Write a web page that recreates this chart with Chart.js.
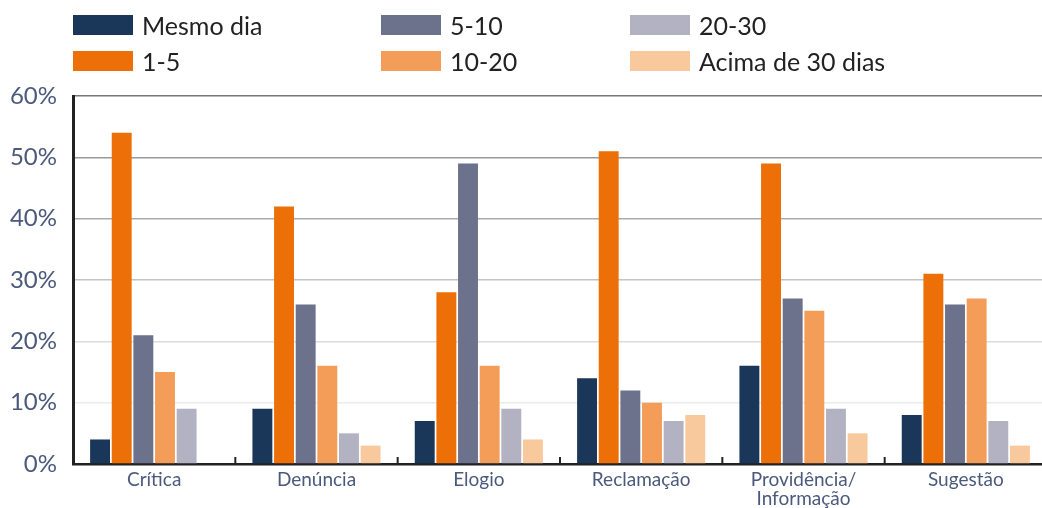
<!DOCTYPE html>
<html>
<head>
<meta charset="utf-8">
<script src="https://cdn.jsdelivr.net/npm/chart.js@4/dist/chart.umd.min.js"></script>
<style>
  html, body { margin: 0; padding: 0; background: #fff; overflow: hidden; }
  #wrap { position: relative; width: 1047px; height: 508px; }
  #chart { position: absolute; left: 0; top: 0; }
  .lg { position: absolute; display: flex; align-items: center; height: 20px;
        font-family: Lato, "Open Sans", sans-serif; font-size: 25px; color: #222; white-space: nowrap; }
  .lg span.sw { display: inline-block; width: 60px; height: 20px; margin-right: 9px; }
</style>
</head>
<body>
<div id="wrap">
  <canvas id="chart" width="1047" height="508"></canvas>
  <div id="legend"></div>
</div>
<script>
// Categories and series (percent of cases by response time)
const categories = ["Crítica", "Denúncia", "Elogio", "Reclamação", ["Providência/", "Informação"], "Sugestão"];
const seriesNames = ["Mesmo dia", "1-5", "5-10", "10-20", "20-30", "Acima de 30 dias"];
const mesmoDia   = [4, 9, 7, 14, 16, 8];
const dias1a5    = [54, 42, 28, 51, 49, 31];
const dias5a10   = [21, 26, 49, 12, 27, 26];
const dias10a20  = [15, 16, 16, 10, 25, 27];
const dias20a30  = [9, 5, 9, 7, 9, 7];
const acima30    = [0, 3, 4, 8, 5, 3];
const yTicks = [0, 10, 20, 30, 40, 50, 60];

const colors = ["#1a3658", "#ec6f07", "#6c718c", "#f49d58", "#b3b2c3", "#f9c99e"];
const seriesValues = [mesmoDia, dias1a5, dias5a10, dias10a20, dias20a30, acima30];

// Legend laid out in three columns, two rows (filled column by column)
const legendPos = [
  { x: 73, y: 15 }, { x: 73, y: 51 },
  { x: 381, y: 15 }, { x: 381, y: 51 },
  { x: 630, y: 15 }, { x: 630, y: 51 }
];
const legendEl = document.getElementById('legend');
seriesNames.forEach((name, i) => {
  const d = document.createElement('div');
  d.className = 'lg';
  d.style.left = legendPos[i].x + 'px';
  d.style.top = legendPos[i].y + 'px';
  d.innerHTML = '<span class="sw" style="background:' + colors[i] + '"></span>' + name;
  legendEl.appendChild(d);
});

// Grid shades darken toward the top of the scale
const gridShades = { 0: 'rgba(0,0,0,0)', 10: '#ececec', 20: '#dcdcdc', 30: '#c4c4c4', 40: '#ababab', 50: '#999999', 60: '#777777' };

// Short upward tick marks between categories on the x axis
const categoryTicks = {
  id: 'categoryTicks',
  afterDatasetsDraw(chart) {
    const xs = chart.scales.x;
    const ctx = chart.ctx;
    const bottom = chart.chartArea.bottom;
    ctx.save();
    ctx.strokeStyle = '#222';
    ctx.lineWidth = 2;
    for (let i = 1; i <= categories.length; i++) {
      const x = (xs.getPixelForValue(i - 1) + xs.getPixelForValue(Math.min(i, categories.length - 1) ) ) / 2;
      const px = i < categories.length ? x : xs.right;
      ctx.beginPath();
      ctx.moveTo(px, bottom);
      ctx.lineTo(px, bottom - 7);
      ctx.stroke();
    }
    ctx.restore();
  }
};

new Chart(document.getElementById('chart'), {
  type: 'bar',
  data: {
    labels: categories,
    datasets: seriesNames.map((name, i) => ({
      label: name,
      data: seriesValues[i],
      backgroundColor: colors[i],
      borderWidth: 0,
      categoryPercentage: 0.8,
      barPercentage: 0.92
    }))
  },
  options: {
    responsive: false,
    animation: false,
    layout: { padding: { top: 96, right: 0, left: 0, bottom: 0 } },
    plugins: { legend: { display: false }, tooltip: { enabled: false } },
    scales: {
      x: {
        grid: { display: true, drawOnChartArea: false, drawTicks: false },
        border: { display: true, color: '#222', width: 2.5 },
        ticks: {
          color: '#4b5a7c',
          padding: 6,
          maxRotation: 0,
          autoSkip: false,
          font: { family: 'Lato, "Open Sans", sans-serif', size: 19, lineHeight: 1.0 }
        },
        afterFit(scale) { scale.height = 44; }
      },
      y: {
        min: 0,
        max: 60,
        afterBuildTicks(scale) { scale.ticks = yTicks.map(v => ({ value: v })); },
        grid: {
          drawTicks: false,
          lineWidth: 1.5,
          color: (c) => gridShades[c.tick.value] || '#ddd'
        },
        border: { display: true, color: '#222', width: 3 },
        ticks: {
          color: '#4b5a7c',
          padding: 16,
          callback: (v) => v + '%',
          font: { family: 'Lato, "Open Sans", sans-serif', size: 24 }
        },
        afterFit(scale) { scale.width = 73; }
      }
    }
  },
  plugins: [categoryTicks]
});
</script>
</body>
</html>
